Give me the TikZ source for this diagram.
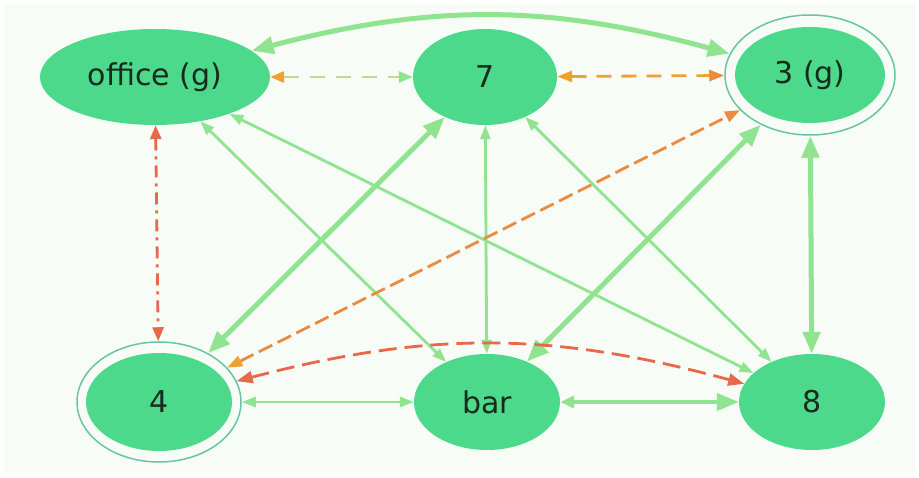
\documentclass[tikz,border=0pt]{standalone}
\usepackage{fontspec}
\setmainfont{DejaVu Sans}
\usetikzlibrary{arrows.meta,shapes.geometric}
\definecolor{nodefill}{HTML}{4DD98B}
\definecolor{txt}{HTML}{18291E}
\definecolor{edgeg}{HTML}{90E490}
\definecolor{ringc}{HTML}{68C4A2}
\definecolor{orangeC}{HTML}{F0A030}
\definecolor{redC}{HTML}{E8684A}
\definecolor{ygC}{HTML}{C3DA8A}
\definecolor{mixC}{HTML}{EC8A40}
\definecolor{bgC}{HTML}{F7FCF7}
\begin{document}
\begin{tikzpicture}[x=1pt,y=1pt,
  state/.style={ellipse,fill=nodefill,inner sep=0pt,text=txt,font=\fontsize{30}{35}\selectfont},
  ring/.style={ellipse,draw=ringc,line width=1.5pt,inner sep=0pt},
  gthin/.style={draw=edgeg,line width=2.8pt,{Triangle[length=14pt,width=10pt]}-{Triangle[length=14pt,width=10pt]}},
  gthick/.style={draw=edgeg,line width=5pt,{Triangle[length=22pt,width=17pt]}-{Triangle[length=22pt,width=17pt]}},
  reddash/.style={draw=redC,line width=2.8pt,dash pattern=on 18pt off 8pt,{Triangle[length=16pt,width=12pt]}-{Triangle[length=16pt,width=12pt]}},
]
\useasboundingbox (0,0) rectangle (919,477);
\fill[white] (0,0) rectangle (919,477);
\fill[bgC] (4,5) rectangle (915,473);

% nodes
\node[state,minimum width=230pt,minimum height=96pt] (office) at (155,400) {office (g)};
\node[state,minimum width=144pt,minimum height=96pt] (seven) at (485,400) {7};
\node[ring,minimum width=170pt,minimum height=120pt] (g3) at (810,402) {};
\node[state,minimum width=150pt,minimum height=96pt] (g3i) at (810,402) {3 (g)};
\node[ring,minimum width=164pt,minimum height=120pt] (four) at (159,75) {};
\node[state,minimum width=146pt,minimum height=98pt] (fouri) at (159,75) {4};
\node[state,minimum width=146pt,minimum height=96pt] (bar) at (487,75) {bar};
\node[state,minimum width=146pt,minimum height=96pt] (eight) at (812,75) {8};

% green edges
\draw[gthick] (office) to[bend left=15] (g3);
\draw[gthick] (four) -- (seven);
\draw[gthick] (bar) -- (g3);
\draw[gthick] (g3) -- (eight);
\draw[draw=edgeg,line width=4pt,{Triangle[length=14pt,width=12pt]}-{Triangle[length=22pt,width=17pt]}] (bar) -- (eight);
\draw[gthin] (office) -- (bar);
\draw[gthin] (office) -- (eight);
\draw[gthin] (seven) -- (bar);
\draw[gthin] (seven) -- (eight);
\draw[gthin] (four) -- (bar);

% dashed edges
\draw[draw=ygC,line width=2.8pt,dash pattern=on 15pt off 11pt,
  {Triangle[length=14pt,width=11pt,color=orangeC]}-{Triangle[length=14pt,width=11pt,color=edgeg]}]
  (office) -- (seven);
\draw[draw=orangeC,line width=2.8pt,dash pattern=on 15pt off 10pt,
  {Triangle[length=15pt,width=11pt,color=orangeC]}-{Triangle[length=15pt,width=11pt,color=mixC]}]
  (seven) -- (g3);
\draw[draw=mixC,line width=2.8pt,dash pattern=on 15pt off 6pt,
  {Triangle[length=15pt,width=11pt,color=orangeC]}-{Triangle[length=15pt,width=11pt,color=mixC]}]
  (four) -- (g3);
\draw[reddash] (four) to[bend left=15] (eight);
\draw[draw=redC,line width=2.8pt,dash pattern=on 12pt off 6pt on 3pt off 6pt,
  {Triangle[length=14pt,width=11pt]}-{Triangle[length=14pt,width=11pt]}]
  (office) -- (four);
\end{tikzpicture}
\end{document}
